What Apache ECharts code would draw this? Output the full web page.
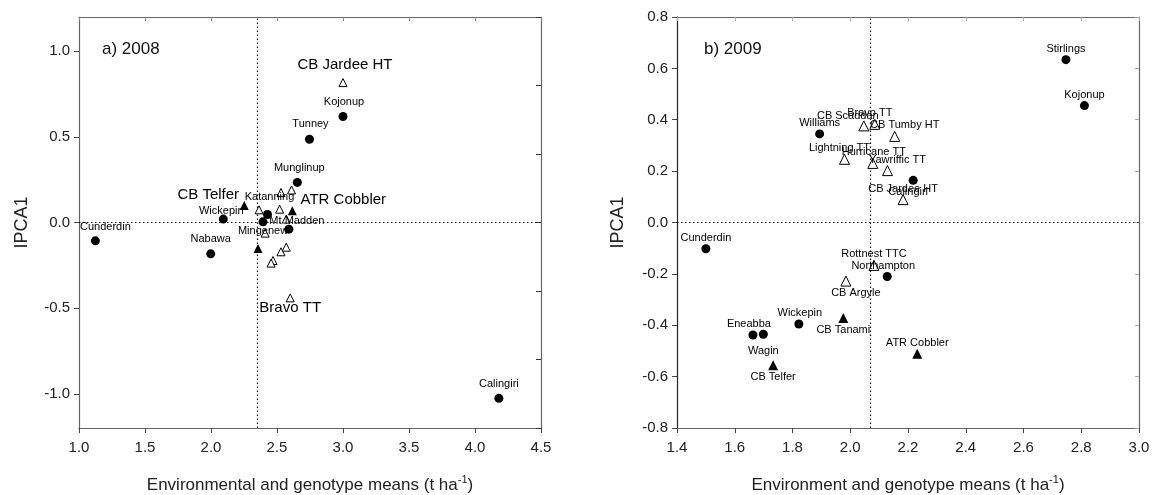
<!DOCTYPE html>
<html><head><meta charset="utf-8">
<script src="https://cdn.jsdelivr.net/npm/echarts@6/dist/echarts.min.js"></script>
<style>html,body{margin:0;padding:0;background:#fff}#c{width:1153px;height:495px}</style>
</head><body><div id="c"></div>
<script>
// ---------- a) 2008 ----------
const envNames2008 = ['Cunderdin','Nabawa','Wickepin','Katanning','Mingenew','Mt Madden','Munglinup','Tunney','Kojonup','Calingiri'];
const envX2008 = [1.124, 1.998, 2.093, 2.428, 2.394, 2.59, 2.654, 2.746, 3.0, 4.181];
const envY2008 = [-0.107, -0.183, 0.02, 0.047, 0.004, -0.039, 0.234, 0.486, 0.619, -1.027];
const filledNames2008 = ['CB Telfer','ATR Cobbler',''];
const filledX2008 = [2.252, 2.616, 2.356];
const filledY2008 = [0.099, 0.068, -0.152];
const openNames2008 = ['CB Jardee HT','Bravo TT','','','','','','','','','',''];
const openX2008 = [3.0, 2.6, 2.61, 2.53, 2.364, 2.52, 2.57, 2.41, 2.57, 2.53, 2.47, 2.455];
const openY2008 = [0.817, -0.44, 0.19, 0.175, 0.074, 0.078, 0.02, -0.062, -0.144, -0.171, -0.222, -0.237];
const refX2008 = 2.35;
const yTicks2008 = [-1.0, -0.5, 0.0, 0.5, 1.0];

// ---------- b) 2009 ----------
const envNames2009 = ['Stirlings','Kojonup','Williams','Calingiri','Cunderdin','Northampton','Wickepin','Eneabba','Wagin'];
const envX2009 = [2.747, 2.811, 1.894, 2.218, 1.5, 2.128, 1.822, 1.663, 1.699];
const envY2009 = [0.634, 0.455, 0.345, 0.164, -0.102, -0.21, -0.395, -0.438, -0.435];
const filledNames2009 = ['CB Tanami','ATR Cobbler','CB Telfer'];
const filledX2009 = [1.976, 2.232, 1.733];
const filledY2009 = [-0.372, -0.511, -0.556];
const openNames2009 = ['CB Scaddan','Bravo TT','CB Tumby HT','Lightning TT','Hurricane TT','Yawriffic TT','CB Jardee HT','Rottnest TTC','CB Argyle'];
const openX2009 = [2.047, 2.085, 2.154, 1.98, 2.078, 2.129, 2.183, 2.082, 1.985];
const openY2009 = [0.376, 0.382, 0.335, 0.246, 0.23, 0.202, 0.089, -0.167, -0.228];
const refX2009 = 2.07;

// ---------- label styling (offsets in px relative to the marker) ----------
const labelOffset2008 = {
  'Cunderdin':[10,-14],'Nabawa':[0,-15],'Wickepin':[-2,-8],'Katanning':[2,-17],'Mingenew':[0,9],
  'Mt Madden':[8,-8],'Munglinup':[2,-14],'Tunney':[1,-15],'Kojonup':[1,-15],'Calingiri':[0,-14],
  'CB Telfer':[-36,-11],'ATR Cobbler':[51,-11],'CB Jardee HT':[2,-18],'Bravo TT':[0,10]
};
const bigLabels2008 = ['CB Telfer','ATR Cobbler','CB Jardee HT','Bravo TT'];
const labelOffset2009 = {
  'Stirlings':[0,-11],'Kojonup':[0,-11],'Williams':[0,-11],'Calingiri':[-5,12],'Cunderdin':[0,-11],
  'Northampton':[-4,-10],'Wickepin':[1,-11],'Eneabba':[-4,-11],'Wagin':[0,17],
  'CB Tanami':[0,12],'ATR Cobbler':[0,-11],'CB Telfer':[0,12],
  'CB Scaddan':[-16,-10],'Bravo TT':[-5,-11],'CB Tumby HT':[10,-11],'Lightning TT':[-5,-11],
  'Hurricane TT':[1,-11],'Yawriffic TT':[10,-11],'CB Jardee HT':[0,-11],'Rottnest TTC':[0,-11],'CB Argyle':[10,12]
};

const FONT = 'Liberation Sans, Arial, sans-serif';

function items(names, xs, ys, offsets, big) {
  return xs.map((x, i) => {
    const n = names[i];
    return {
      value: [x, ys[i]],
      name: n,
      label: {
        show: !!n,
        formatter: n,
        position: 'inside',
        offset: offsets[n] || [0, -11],
        fontSize: (big && big.includes(n)) ? 15 : 11,
        color: '#000',
        fontFamily: FONT
      }
    };
  });
}

function scatter(xi, yi, data, kind, size) {
  return {
    type: 'scatter', xAxisIndex: xi, yAxisIndex: yi, data: data,
    symbol: kind === 'env' ? 'circle' : 'triangle',
    symbolSize: size, z: 5,
    itemStyle: kind === 'open'
      ? { color: '#fff', borderColor: '#000', borderWidth: 1, opacity: 1 }
      : { color: '#000', opacity: 1 },
    emphasis: { disabled: true }
  };
}

function refLines(xv) {
  return {
    silent: true, symbol: 'none', animation: false,
    label: { show: false },
    lineStyle: { type: [1.5, 2.5], color: '#000', width: 1.2 },
    data: [{ xAxis: xv }, { yAxis: 0 }]
  };
}

const axisLineGray = { show: true, onZero: false, lineStyle: { color: '#666', width: 1.2 } };
const labelStyle = { color: '#222', fontSize: 15, fontFamily: FONT };
const xName = (t) => ({
  name: '{a|' + t + ' (t ha}{s|-1}{a|)}',
  nameLocation: 'middle', nameGap: 46,
  nameTextStyle: { rich: {
    a: { fontSize: 17, fontFamily: FONT, color: '#222' },
    s: { fontSize: 11, fontFamily: FONT, color: '#222', verticalAlign: 'top', padding: [0, 0, 11, 0] }
  } }
});

const s1 = scatter(0, 0, items(envNames2008, envX2008, envY2008, labelOffset2008, bigLabels2008), 'env', 9);
s1.markLine = refLines(refX2008);
const s4 = scatter(2, 2, items(envNames2009, envX2009, envY2009, labelOffset2009, null), 'env', 9);
s4.markLine = refLines(refX2009);

const option = {
  animation: false,
  backgroundColor: '#fff',
  textStyle: { fontFamily: FONT },
  grid: [
    { left: 79, top: 17, width: 462, height: 411, containLabel: false, outerBoundsMode: 'none' },
    { left: 677, top: 17, width: 462, height: 411, containLabel: false, outerBoundsMode: 'none' }
  ],
  graphic: [
    { type: 'text', left: 102, top: 41, style: { text: 'a) 2008', fontSize: 17, fontFamily: FONT, fill: '#111' } },
    { type: 'text', left: 704, top: 41, style: { text: 'b) 2009', fontSize: 17, fontFamily: FONT, fill: '#111' } }
  ],
  xAxis: [
    Object.assign({ gridIndex: 0, type: 'value', position: 'bottom', min: 1.0, max: 4.5, interval: 0.5,
      axisLine: axisLineGray, axisTick: { show: true, length: 5, lineStyle: { color: '#444' } },
      axisLabel: Object.assign({ margin: 12, formatter: v => v.toFixed(1) }, labelStyle),
      splitLine: { show: false } }, xName('Environmental and genotype means')),
    { gridIndex: 0, type: 'value', position: 'top', min: 1.0, max: 4.5, interval: 0.5,
      axisLine: axisLineGray, axisTick: { show: true, inside: true, length: 4, lineStyle: { color: '#888' } },
      axisLabel: { show: false }, splitLine: { show: false } },
    Object.assign({ gridIndex: 1, type: 'value', position: 'bottom', min: 1.4, max: 3.0, interval: 0.2,
      axisLine: axisLineGray, axisTick: { show: true, length: 5, lineStyle: { color: '#444' } },
      axisLabel: Object.assign({ margin: 12, formatter: v => v.toFixed(1) }, labelStyle),
      splitLine: { show: false } }, xName('Environment and genotype means')),
    { gridIndex: 1, type: 'value', position: 'top', min: 1.4, max: 3.0, interval: 0.2,
      axisLine: axisLineGray, axisTick: { show: true, inside: true, length: 4, lineStyle: { color: '#aaa' } },
      axisLabel: { show: false }, splitLine: { show: false } }
  ],
  yAxis: [
    { gridIndex: 0, type: 'value', position: 'left', min: -1.2, max: 1.2,
      name: 'IPCA1', nameLocation: 'middle', nameGap: 48,
      nameTextStyle: { fontSize: 18, fontFamily: FONT, color: '#222' },
      axisLine: axisLineGray,
      axisTick: { show: true, length: 5, customValues: yTicks2008, lineStyle: { color: '#444' } },
      axisLabel: Object.assign({ margin: 9, customValues: yTicks2008, formatter: v => v.toFixed(1) }, labelStyle),
      splitLine: { show: false } },
    { gridIndex: 0, type: 'value', position: 'right', min: -1.2, max: 1.2, interval: 0.4,
      axisLine: axisLineGray, axisTick: { show: true, inside: true, length: 5, lineStyle: { color: '#333' } },
      axisLabel: { show: false }, splitLine: { show: false } },
    { gridIndex: 1, type: 'value', position: 'left', min: -0.8, max: 0.8, interval: 0.2,
      name: 'IPCA1', nameLocation: 'middle', nameGap: 50,
      nameTextStyle: { fontSize: 18, fontFamily: FONT, color: '#222' },
      axisLine: { show: true, onZero: false, lineStyle: { color: '#222', width: 1.2 } },
      axisTick: { show: true, length: 5, lineStyle: { color: '#444' } },
      axisLabel: Object.assign({ margin: 9, formatter: v => v.toFixed(1) }, labelStyle),
      splitLine: { show: false } },
    { gridIndex: 1, type: 'value', position: 'right', min: -0.8, max: 0.8, interval: 0.2,
      axisLine: axisLineGray, axisTick: { show: true, inside: true, length: 4, lineStyle: { color: '#aaa' } },
      axisLabel: { show: false }, splitLine: { show: false } }
  ],
  series: [
    s1,
    scatter(0, 0, items(filledNames2008, filledX2008, filledY2008, labelOffset2008, bigLabels2008), 'filled', 9),
    scatter(0, 0, items(openNames2008, openX2008, openY2008, labelOffset2008, bigLabels2008), 'open', 8),
    s4,
    scatter(2, 2, items(filledNames2009, filledX2009, filledY2009, labelOffset2009, null), 'filled', 10),
    scatter(2, 2, items(openNames2009, openX2009, openY2009, labelOffset2009, null), 'open', 10)
  ]
};

const chart = echarts.init(document.getElementById('c'), null, { renderer: 'canvas' });
chart.setOption(option);
</script>
</body></html>
